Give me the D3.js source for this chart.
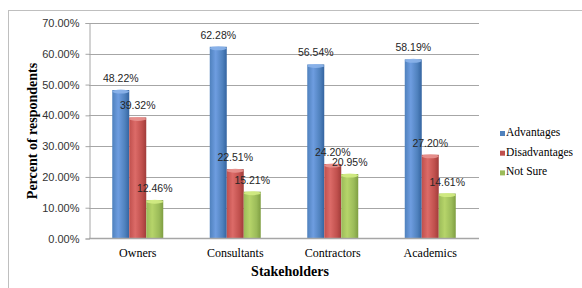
<!DOCTYPE html>
<html><head><meta charset="utf-8">
<script src="https://cdn.jsdelivr.net/npm/d3@7"></script>
<style>body{margin:0;background:#fff}svg{display:block}</style>
</head><body>
<svg id="c" width="582" height="288"></svg>
<script>
const categories = ["Owners", "Consultants", "Contractors", "Academics"];
const seriesNames = ["Advantages", "Disadvantages", "Not Sure"];
const advantages = [48.22, 62.28, 56.54, 58.19];
const disadvantages = [39.32, 22.51, 24.20, 27.20];
const notSure = [12.46, 15.21, 20.95, 14.61];
const yTicks = [0, 10, 20, 30, 40, 50, 60, 70];
const seriesValues = [advantages, disadvantages, notSure];
const colors = [
  {mid:"#4f81bd", light:"#6e9de0", dark:"#3464a0", cap:"#8cb4ea"},
  {mid:"#c0504d", light:"#dc6b68", dark:"#a03c3a", cap:"#e89390"},
  {mid:"#9bbb59", light:"#b6d46a", dark:"#7f9e42", cap:"#d3ec84"}
];

(function(){
const svg = d3.select("#c");
const defs = svg.append("defs");
colors.forEach((c,i)=>{
  const g = defs.append("linearGradient").attr("id","g"+i).attr("x1","0").attr("x2","1").attr("y1","0").attr("y2","0");
  g.append("stop").attr("offset","0%").attr("stop-color",c.mid);
  g.append("stop").attr("offset","35%").attr("stop-color",c.light);
  g.append("stop").attr("offset","75%").attr("stop-color",c.mid);
  g.append("stop").attr("offset","100%").attr("stop-color",c.dark);
});

// outer frame
svg.append("rect").attr("x",8.5).attr("y",10.5).attr("width",590).attr("height",300)
  .attr("fill","none").attr("stroke","#bfbfbf").attr("stroke-width",1);

const pl = 89, pr = 479, pt = 23, pb = 238.5;
const y = d3.scaleLinear().domain([0,70]).range([pb, pt]);
const x0 = d3.scaleBand().domain(categories).range([pl,pr]).paddingInner(0.477).paddingOuter(0.2385);
const x1 = d3.scaleBand().domain(d3.range(3)).range([0,x0.bandwidth()]).padding(0);

// gridlines
svg.append("g").selectAll("line").data(yTicks.filter(d=>d>0)).join("line")
  .attr("x1",pl).attr("x2",pr).attr("y1",d=>Math.round(y(d))+0.5).attr("y2",d=>Math.round(y(d))+0.5)
  .attr("stroke","#a6a6a6").attr("stroke-width",1);

// y axis
const yAxis = d3.axisLeft(y).tickValues(yTicks).tickFormat(d=>d3.format(".2f")(d)+"%").tickSize(4).tickPadding(6);
const ya = svg.append("g").attr("transform",`translate(${pl}.5,0)`).call(yAxis);
ya.select(".domain").attr("stroke","#a6a6a6");
ya.selectAll(".tick line").attr("stroke","#a6a6a6");
ya.selectAll(".tick text").attr("font-family","Liberation Sans, Arial, sans-serif").attr("font-size","11px").attr("fill","#333");

// bars
const groups = svg.append("g").selectAll("g").data(categories).join("g")
  .attr("transform",d=>`translate(${x0(d)},0)`);
seriesValues.forEach((vals,si)=>{
  groups.append("rect")
    .attr("x",x1(si)).attr("width",x1.bandwidth())
    .attr("y",(d,i)=>y(vals[i])).attr("height",(d,i)=>pb - y(vals[i]))
    .attr("fill",`url(#g${si})`);
  groups.append("ellipse")
    .attr("cx",x1(si)+x1.bandwidth()/2).attr("cy",(d,i)=>y(vals[i])+1.5)
    .attr("rx",x1.bandwidth()/2).attr("ry",2)
    .attr("fill",colors[si].cap).attr("opacity",0.9);
});

// x axis
const xa = svg.append("g").attr("transform",`translate(0,${pb})`)
  .call(d3.axisBottom(x0).tickSize(0).tickPadding(10));
xa.select(".domain").attr("stroke","#a6a6a6").attr("stroke-width",1.5).attr("d",`M${pl},0H${pr}`);
xa.selectAll(".tick text").attr("font-family","Liberation Serif, Times New Roman, serif").attr("font-size","12px").attr("fill","#000");

// data labels
seriesValues.forEach((vals,si)=>{
  groups.append("text")
    .attr("x",x1(si)+x1.bandwidth()/2).attr("y",(d,i)=>y(vals[i])-8)
    .attr("text-anchor","middle")
    .attr("font-family","Liberation Sans, Arial, sans-serif").attr("font-size","10.5px").attr("fill","#262626")
    .text((d,i)=>d3.format(".2f")(vals[i])+"%");
});

// axis titles
svg.append("text").attr("x",290).attr("y",276).attr("text-anchor","middle")
  .attr("font-family","Liberation Serif, Times New Roman, serif").attr("font-size","14px").attr("font-weight","bold")
  .text("Stakeholders");
svg.append("text").attr("transform","translate(37,131) rotate(-90)").attr("text-anchor","middle")
  .attr("font-family","Liberation Serif, Times New Roman, serif").attr("font-size","14px").attr("font-weight","bold")
  .text("Percent of respondents");

// legend
const lg = svg.append("g").selectAll("g").data(seriesNames).join("g")
  .attr("transform",(d,i)=>`translate(500,${136 + i*19.7})`);
lg.append("rect").attr("x",0).attr("y",-5).attr("width",5).attr("height",5).attr("fill",(d,i)=>colors[i].mid);
lg.append("text").attr("x",6).attr("y",0)
  .attr("font-family","Liberation Serif, Times New Roman, serif").attr("font-size","11.5px").attr("fill","#000")
  .text(d=>d);
})();
</script>
</body></html>
